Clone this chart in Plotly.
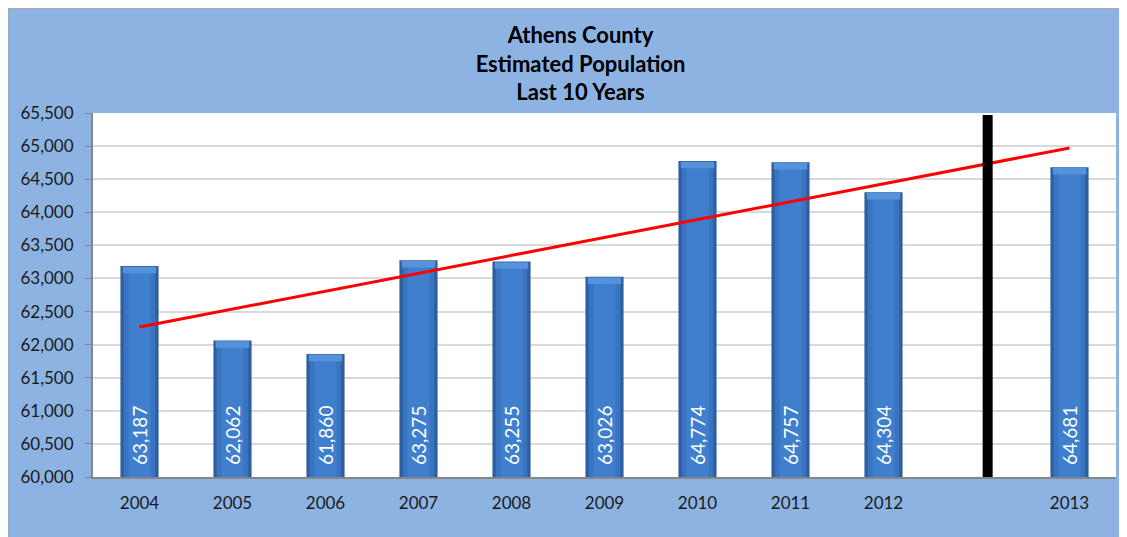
import plotly.graph_objects as go

categories = ["2004", "2005", "2006", "2007", "2008", "2009", "2010", "2011", "2012", "", "2013"]
populations = [63187, 62062, 61860, 63275, 63255, 63026, 64774, 64757, 64304, None, 64681]
value_labels = ["63,187", "62,062", "61,860", "63,275", "63,255", "63,026", "64,774", "64,757", "64,304", "", "64,681"]
trend_x = [0, 10]
trend_y = [62266, 64972]
divider_x = [9.12, 9.12]
divider_y = [60000, 65470]
y_ticks = list(range(60000, 65501, 500))
y_tick_text = [f"{v:,}" for v in y_ticks]

FONT = "Lato, 'Open Sans', sans-serif"
BASE = 60000
xs = list(range(len(categories)))

bx = [x for x, v in zip(xs, populations) if v is not None]
bv = [v for v in populations if v is not None]

fig = go.Figure()
# bar body: dark outer edge, lighter inner face
fig.add_trace(go.Bar(x=bx, y=[v - BASE for v in bv], base=BASE, width=0.41,
                     marker=dict(color="#2E5E9F", line=dict(width=0)),
                     hoverinfo="skip", showlegend=False))
fig.add_trace(go.Bar(x=bx, y=[v - BASE - 60 for v in bv], base=BASE, width=0.34,
                     marker=dict(color="#3874BF", line=dict(width=0)),
                     hoverinfo="skip", showlegend=False))
fig.add_trace(go.Bar(x=bx, y=[v - BASE - 60 for v in bv], base=BASE, width=0.24,
                     marker=dict(color="#3F7FCD", line=dict(width=0)),
                     hoverinfo="skip", showlegend=False))
# lighter bevel cap at top
fig.add_trace(go.Bar(x=bx, y=[100] * len(bv), base=[v - 110 for v in bv], width=0.36,
                     marker=dict(color="#5592DC", line=dict(width=0)),
                     hoverinfo="skip", showlegend=False))

fig.add_trace(go.Scatter(x=trend_x, y=trend_y, mode="lines",
                         line=dict(color="#FF0000", width=3), showlegend=False, hoverinfo="skip"))
fig.add_trace(go.Scatter(x=divider_x, y=divider_y, mode="lines",
                         line=dict(color="#000000", width=10), showlegend=False, hoverinfo="skip"))

for x, v, t in zip(xs, populations, value_labels):
    if v is None:
        continue
    fig.add_annotation(x=x, y=BASE, xref="x", yref="y", text=t, textangle=-90,
                       showarrow=False, yanchor="bottom", yshift=10,
                       font=dict(family=FONT, size=19, color="white"))

# thin grey frame around the blue chart area
fig.add_shape(type="rect", xref="paper", yref="paper",
              x0=-85 / 1023, x1=1.03, y0=-0.3, y1=1 + 105 / 364 - 0.001,
              fillcolor="rgba(0,0,0,0)", line=dict(color="#A6A6A6", width=1), layer="below")

fig.update_layout(
    width=1127, height=537,
    margin=dict(l=85, r=19, t=105, b=68),
    paper_bgcolor="#8DB3E2", plot_bgcolor="white",
    barmode="overlay",
    title=dict(text="<b>Athens County<br>Estimated Population<br>Last 10 Years</b>",
               x=0.508, xanchor="center", y=0.935, yanchor="top",
               font=dict(family=FONT, size=22, color="black")),
    xaxis=dict(range=[-0.5, 10.5], tickvals=xs, ticktext=categories, showgrid=False,
               showline=True, linecolor="#868686", linewidth=2, ticks="",
               tickfont=dict(family=FONT, size=17, color="#1a1a1a"), ticklabelstandoff=10,
               fixedrange=True),
    yaxis=dict(range=[BASE, 65500], tickvals=y_ticks, ticktext=y_tick_text,
               showgrid=True, gridcolor="#D9D9D9", gridwidth=1.5,
               showline=True, linecolor="#868686", linewidth=2, ticks="outside", ticklen=6,
               tickcolor="#868686", tickfont=dict(family=FONT, size=17, color="#1a1a1a"),
               ticklabelstandoff=8, zeroline=False, fixedrange=True),
)

fig.write_html("out.html")
